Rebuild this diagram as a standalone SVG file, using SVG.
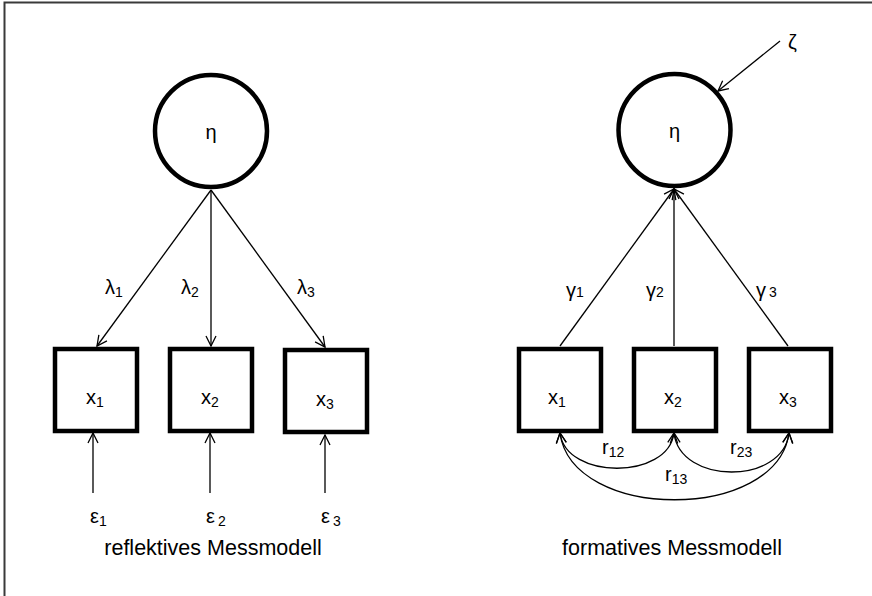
<svg xmlns="http://www.w3.org/2000/svg" width="872" height="596" viewBox="0 0 872 596">
  <style>
    text { font-family: "Liberation Sans", Arial, sans-serif; fill: #000; }
    .lbl { font-size: 20px; }
    .sub { font-size: 14px; }
    .cap { font-size: 21.5px; }
    .node { fill: #fff; stroke: #000; stroke-width: 4.5; }
    .edge { fill: none; stroke: #000; stroke-width: 1.3; marker-end: url(#arrow); }
    .both { fill: none; stroke: #000; stroke-width: 1.3; marker-start: url(#arrowS); marker-end: url(#arrow); }
  </style>
  <defs>
    <marker id="arrow" viewBox="0 0 12 12" refX="11" refY="6" markerWidth="12" markerHeight="12" markerUnits="userSpaceOnUse" orient="auto">
      <path d="M1,1 L11,6 L1,11" fill="none" stroke="#000" stroke-width="1.3"/>
    </marker>
    <marker id="arrowS" viewBox="0 0 12 12" refX="11" refY="6" markerWidth="12" markerHeight="12" markerUnits="userSpaceOnUse" orient="auto-start-reverse">
      <path d="M1,1 L11,6 L1,11" fill="none" stroke="#000" stroke-width="1.3"/>
    </marker>
  </defs>
  <rect width="872" height="596" fill="#fff"/>

  <!-- frame -->
  <path d="M4.5,596 V2.5 H872" fill="none" stroke="#3a3a3a" stroke-width="2"/>

  <!-- connectors -->
  <g id="connectors">
    <!-- reflective model -->
    <line class="edge" x1="211" y1="190" x2="97" y2="346"/>
    <line class="edge" x1="211" y1="190" x2="211" y2="346"/>
    <line class="edge" x1="211" y1="190" x2="325" y2="347"/>
    <line class="edge" x1="93" y1="493" x2="93" y2="433"/>
    <line class="edge" x1="210" y1="493" x2="210" y2="433"/>
    <line class="edge" x1="325" y1="493" x2="325" y2="435"/>
    <!-- formative model -->
    <line class="edge" x1="560" y1="346" x2="674" y2="189"/>
    <line class="edge" x1="674" y1="346" x2="674" y2="189"/>
    <line class="edge" x1="788" y1="346" x2="674" y2="189"/>
    <line class="edge" x1="780" y1="41" x2="718" y2="91"/>
    <path class="both" d="M560,433 C566,480 668,480 674,433"/>
    <path class="both" d="M674,433 C680,485 783,485 789,433"/>
    <path class="both" d="M560,433 C572,522 777,522 789,433"/>
  </g>

  <!-- reflective model nodes -->
  <g id="eta-reflective">
    <circle class="node" cx="211" cy="131" r="56"/>
    <text class="lbl" x="211" y="139" text-anchor="middle">η</text>
  </g>
  <g id="x1-reflective">
    <rect class="node" x="55" y="349" width="82" height="82"/>
    <text class="lbl" x="86" y="404">x<tspan class="sub" dy="3">1</tspan></text>
  </g>
  <g id="x2-reflective">
    <rect class="node" x="170" y="349" width="82" height="82"/>
    <text class="lbl" x="201" y="404">x<tspan class="sub" dy="3">2</tspan></text>
  </g>
  <g id="x3-reflective">
    <rect class="node" x="285" y="350" width="82" height="82"/>
    <text class="lbl" x="316" y="406">x<tspan class="sub" dy="3">3</tspan></text>
  </g>
  <g id="loadings">
    <text class="lbl" x="105" y="294">λ<tspan class="sub" dy="3">1</tspan></text>
    <text class="lbl" x="181" y="294">λ<tspan class="sub" dy="3">2</tspan></text>
    <text class="lbl" x="297" y="294">λ<tspan class="sub" dy="3">3</tspan></text>
  </g>
  <g id="errors">
    <text class="lbl" x="90" y="523">ε<tspan class="sub" dy="3">1</tspan></text>
    <text class="lbl" x="206" y="523">ε<tspan class="sub" dx="3" dy="3">2</tspan></text>
    <text class="lbl" x="321" y="523">ε<tspan class="sub" dx="3" dy="3">3</tspan></text>
  </g>
  <text class="cap" x="213" y="555" text-anchor="middle">reflektives Messmodell</text>

  <!-- formative model nodes -->
  <g id="eta-formative">
    <circle class="node" cx="674.5" cy="130" r="56"/>
    <text class="lbl" x="674.5" y="138" text-anchor="middle">η</text>
  </g>
  <g id="zeta">
    <text class="lbl" x="788" y="49">ζ</text>
  </g>
  <g id="x1-formative">
    <rect class="node" x="519" y="349" width="82" height="82"/>
    <text class="lbl" x="548" y="404">x<tspan class="sub" dy="3">1</tspan></text>
  </g>
  <g id="x2-formative">
    <rect class="node" x="634" y="349" width="82" height="82"/>
    <text class="lbl" x="664" y="404">x<tspan class="sub" dy="3">2</tspan></text>
  </g>
  <g id="x3-formative">
    <rect class="node" x="749" y="349" width="82" height="82"/>
    <text class="lbl" x="779" y="404">x<tspan class="sub" dy="3">3</tspan></text>
  </g>
  <g id="weights">
    <text class="lbl" x="566" y="297">γ<tspan class="sub">1</tspan></text>
    <text class="lbl" x="646" y="297">γ<tspan class="sub">2</tspan></text>
    <text class="lbl" x="756" y="297">γ<tspan class="sub" dx="3">3</tspan></text>
  </g>
  <g id="correlations">
    <text class="lbl" x="602" y="454">r<tspan class="sub" dy="3">12</tspan></text>
    <text class="lbl" x="730" y="454">r<tspan class="sub" dy="3">23</tspan></text>
    <text class="lbl" x="665" y="481">r<tspan class="sub" dy="3">13</tspan></text>
  </g>
  <text class="cap" x="672" y="555" text-anchor="middle">formatives Messmodell</text>
</svg>
